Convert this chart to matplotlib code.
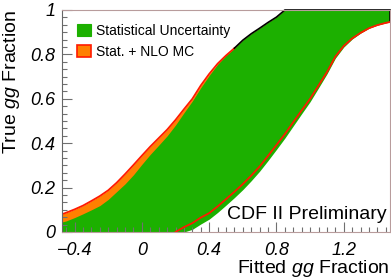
import numpy as np
import matplotlib
matplotlib.use("Agg")
import matplotlib.pyplot as plt
from matplotlib.patches import Patch
from matplotlib.ticker import MultipleLocator

plt.rcParams['font.family'] = ['Liberation Sans', 'DejaVu Sans']
plt.rcParams['mathtext.fontset'] = 'custom'
plt.rcParams['mathtext.rm'] = 'Liberation Sans'
plt.rcParams['mathtext.it'] = 'Liberation Sans:italic'

# fitted gg fraction grid
fitted = [-0.475, -0.45, -0.40, -0.35, -0.30, -0.25, -0.20, -0.15, -0.10, -0.05,
          0.00, 0.05, 0.10, 0.15, 0.20, 0.25, 0.30, 0.35, 0.40, 0.45,
          0.50, 0.55, 0.60, 0.65, 0.70, 0.75, 0.80, 0.85, 0.90, 0.95,
          1.00, 1.05, 1.10, 1.15, 1.20, 1.25, 1.30, 1.35, 1.40, 1.45, 1.475]

# upper edge (true fraction) of stat + NLO MC band
upper_total = [0.080, 0.087, 0.102, 0.119, 0.140, 0.162, 0.188, 0.222, 0.261, 0.302,
               0.344, 0.385, 0.423, 0.461, 0.505, 0.553, 0.600, 0.660, 0.712, 0.758,
               0.795, 0.828, 0.864, 0.893, 0.918, 0.944, 0.968, 1.0, 1.0, 1.0,
               1.0, 1.0, 1.0, 1.0, 1.0, 1.0, 1.0, 1.0, 1.0, 1.0, 1.0]
# upper edge of statistical band
upper_stat = [0.045, 0.050, 0.065, 0.082, 0.100, 0.119, 0.147, 0.182, 0.217, 0.258,
              0.305, 0.350, 0.391, 0.433, 0.482, 0.537, 0.590, 0.650, 0.705, 0.755,
              0.795, 0.828, 0.864, 0.893, 0.918, 0.944, 0.968, 1.0, 1.0, 1.0,
              1.0, 1.0, 1.0, 1.0, 1.0, 1.0, 1.0, 1.0, 1.0, 1.0, 1.0]
# lower edge of stat + NLO MC band
lower_total = [0.0, 0.0, 0.0, 0.0, 0.0, 0.0, 0.0, 0.0, 0.0, 0.0,
               0.0, 0.0, 0.0, 0.0, 0.0, 0.022, 0.040, 0.065, 0.085, 0.115,
               0.148, 0.181, 0.216, 0.254, 0.295, 0.343, 0.392, 0.441, 0.495, 0.548,
               0.600, 0.660, 0.720, 0.790, 0.838, 0.872, 0.897, 0.918, 0.932, 0.942, 0.946]
# lower edge of statistical band
lower_stat = [0.0, 0.0, 0.0, 0.0, 0.0, 0.0, 0.0, 0.0, 0.0, 0.0,
              0.0, 0.0, 0.0, 0.0, 0.0, 0.0, 0.012, 0.036, 0.058, 0.088,
              0.121, 0.155, 0.191, 0.231, 0.274, 0.322, 0.372, 0.423, 0.478, 0.533,
              0.587, 0.649, 0.712, 0.783, 0.833, 0.869, 0.896, 0.918, 0.932, 0.942, 0.946]

x_ticks = [-0.4, 0.0, 0.4, 0.8, 1.2]
x_ticklabels = ['\u22120.4', '0', '0.4', '0.8', '1.2']
y_ticks = [0.0, 0.2, 0.4, 0.6, 0.8, 1.0]
y_ticklabels = ['0', '0.2', '0.4', '0.6', '0.8', '1']

green = '#1cb000'
orange = '#ff8000'
red = '#ff1a00'

x = np.array(fitted)
ut, us = np.array(upper_total), np.array(upper_stat)
lt, ls = np.array(lower_total), np.array(lower_stat)

fig = plt.figure(figsize=(3.91, 2.80), dpi=100)
ax = fig.add_axes([62 / 391, 1 - 232 / 280, 328 / 391, 222 / 280])

ax.fill_between(x, lt, ut, color=orange, lw=0)
ax.fill_between(x, ls, us, color=green, lw=0)

# outlines
red_up = x <= 0.55
ax.plot(x[red_up], ut[red_up], color=red, lw=1.3)
blk = x >= 0.55
ax.plot(x[blk], ut[blk], color='black', lw=1.2, clip_on=False)
ax.vlines(x[-1], lt[-1], 1.0, color='black', lw=1.2, clip_on=False)
red_lo = x >= 0.2
ax.plot(x[red_lo], lt[red_lo], color=red, lw=1.3)

ax.set_xlim(-0.475, 1.475)
ax.set_ylim(0, 1)

ax.set_xticks(x_ticks)
ax.set_xticklabels(x_ticklabels, fontsize=13, style='italic')
ax.set_yticks(y_ticks)
ax.set_yticklabels(y_ticklabels, fontsize=13, style='italic')
ax.xaxis.set_minor_locator(MultipleLocator(0.05))
ax.yaxis.set_minor_locator(MultipleLocator(0.2 / 6))
ax.tick_params(which='both', direction='in', color='#707070', width=0.8)
ax.tick_params(which='major', length=7)
ax.tick_params(which='minor', length=3.5)
ax.tick_params(axis='x', pad=7)
ax.tick_params(axis='y', pad=5)

for s in ['top', 'right', 'bottom']:
    ax.spines[s].set_color('#b89c9c')
ax.spines['left'].set_color('#666666')
for s in ax.spines.values():
    s.set_linewidth(0.8)

ax.set_xlabel('Fitted $gg$ Fraction', fontsize=14, loc='right')
ax.set_ylabel('True $gg$ Fraction', fontsize=14, loc='top')
ax.xaxis.set_label_coords(1.0, -0.115)
ax.yaxis.set_label_coords(-0.122, 1.0)

handles = [Patch(facecolor=green, edgecolor=green, lw=0.8),
           Patch(facecolor=orange, edgecolor=red, lw=1.2)]
ax.legend(handles, ['Statistical Uncertainty', 'Stat. + NLO MC'],
          loc='upper left', bbox_to_anchor=(0.045, 0.937), frameon=False,
          fontsize=10, handlelength=1.0, handleheight=1.0, handletextpad=0.4,
          labelspacing=0.5, borderpad=0, borderaxespad=0)

ax.text(0.99, 0.08, 'CDF II Preliminary', transform=ax.transAxes,
        ha='right', va='center', fontsize=14)

fig.savefig('out.png', dpi=100)
